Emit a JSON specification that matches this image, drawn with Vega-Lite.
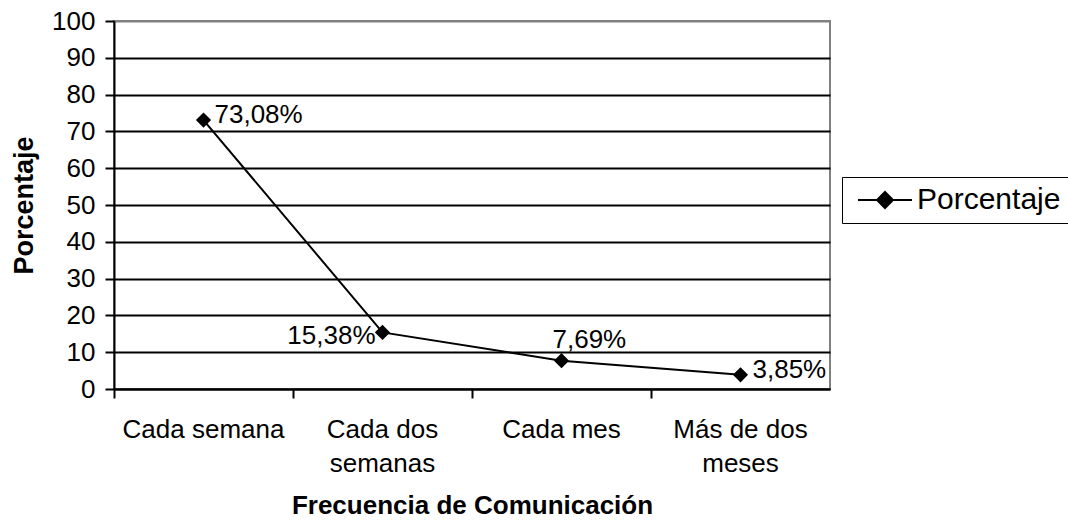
{
  "$schema": "https://vega.github.io/schema/vega-lite/v6.json",
  "autosize": "none",
  "width": 716,
  "height": 368,
  "padding": {"left": 114, "top": 21, "right": 238, "bottom": 134},
  "background": "white",
  "config": {
    "font": "Liberation Sans",
    "view": {"stroke": "#808080", "strokeWidth": 2},
    "axis": {"labelColor": "black", "titleColor": "black", "labelFont": "Liberation Sans", "titleFont": "Liberation Sans"}
  },
  "data": {
    "values": [
      {"cat": "Cada semana", "pct": 73.08, "lab": "73,08%", "serie": "Porcentaje"},
      {"cat": "Cada dos semanas", "pct": 15.38, "lab": "15,38%", "serie": "Porcentaje"},
      {"cat": "Cada mes", "pct": 7.69, "lab": "7,69%", "serie": "Porcentaje"},
      {"cat": "Más de dos meses", "pct": 3.85, "lab": "3,85%", "serie": "Porcentaje"}
    ]
  },
  "encoding": {
    "x": {
      "field": "cat", "type": "nominal", "sort": null,
      "scale": {"type": "band", "paddingInner": 0, "paddingOuter": 0},
      "axis": {
        "title": "Frecuencia de Comunicación",
        "titleFontSize": 26, "titleFontWeight": "bold", "titlePadding": 16,
        "labelAngle": 0, "labelFontSize": 26, "labelPadding": 18, "labelLineHeight": 34,
        "labelExpr": "datum.label == 'Cada dos semanas' ? ['Cada dos', 'semanas'] : datum.label == 'Más de dos meses' ? ['Más de dos', 'meses'] : datum.label",
        "bandPosition": 0,
        "domainColor": "black", "domainWidth": 2,
        "tickColor": "black", "tickWidth": 2, "tickSize": 9,
        "grid": false, "labelBaseline": "top"
      }
    },
    "y": {
      "field": "pct", "type": "quantitative",
      "scale": {"domain": [0, 100], "nice": false},
      "axis": {
        "title": "Porcentaje",
        "titleFontSize": 27, "titleFontWeight": "bold", "titlePadding": 13,
        "values": [0, 10, 20, 30, 40, 50, 60, 70, 80, 90, 100],
        "labelFontSize": 26, "labelPadding": 10,
        "domainColor": "black", "domainWidth": 2,
        "tickColor": "black", "tickWidth": 2, "tickSize": 9,
        "grid": true, "gridWidth": 2,
        "gridColor": {"condition": {"test": "datum.value === 100", "value": "#808080"}, "value": "black"}
      }
    }
  },
  "layer": [
    {"mark": {"type": "line", "stroke": "black", "strokeWidth": 2}},
    {
      "mark": {"type": "point", "shape": "diamond", "size": 170, "filled": true, "strokeWidth": 1.5, "opacity": 1},
      "encoding": {
        "fill": {"field": "serie", "type": "nominal", "scale": {"range": ["black"]},
          "legend": {
            "title": null, "orient": "none", "legendX": 728, "legendY": 156,
            "strokeColor": "black", "padding": 8,
            "symbolType": "M-2.7,0H2.7M0,-0.8L0.8,0L0,0.8L-0.8,0Z",
            "symbolSize": 400, "symbolStrokeWidth": 2, "symbolOffset": 20,
            "symbolFillColor": "black", "symbolStrokeColor": "black",
            "labelFontSize": 30, "labelOffset": 17, "labelColor": "black", "labelFont": "Liberation Sans",
            "encode": {"legend": {"update": {"strokeWidth": {"value": 2}}}}
          }
        },
        "stroke": {"field": "serie", "type": "nominal", "scale": {"range": ["black"]}}
      }
    },
    {
      "transform": [{"filter": "datum.cat == 'Cada semana'"}],
      "mark": {"type": "text", "align": "left", "baseline": "alphabetic", "dx": 11, "dy": 3, "fontSize": 26, "font": "Liberation Sans", "color": "black"},
      "encoding": {"text": {"field": "lab"}}
    },
    {
      "transform": [{"filter": "datum.cat == 'Cada dos semanas'"}],
      "mark": {"type": "text", "align": "right", "baseline": "alphabetic", "dx": -7, "dy": 12, "fontSize": 26, "font": "Liberation Sans", "color": "black"},
      "encoding": {"text": {"field": "lab"}}
    },
    {
      "transform": [{"filter": "datum.cat == 'Cada mes'"}],
      "mark": {"type": "text", "align": "left", "baseline": "alphabetic", "dx": -9, "dy": -13, "fontSize": 26, "font": "Liberation Sans", "color": "black"},
      "encoding": {"text": {"field": "lab"}}
    },
    {
      "transform": [{"filter": "datum.cat == 'Más de dos meses'"}],
      "mark": {"type": "text", "align": "left", "baseline": "alphabetic", "dx": 12, "dy": 3, "fontSize": 26, "font": "Liberation Sans", "color": "black"},
      "encoding": {"text": {"field": "lab"}}
    }
  ]
}
